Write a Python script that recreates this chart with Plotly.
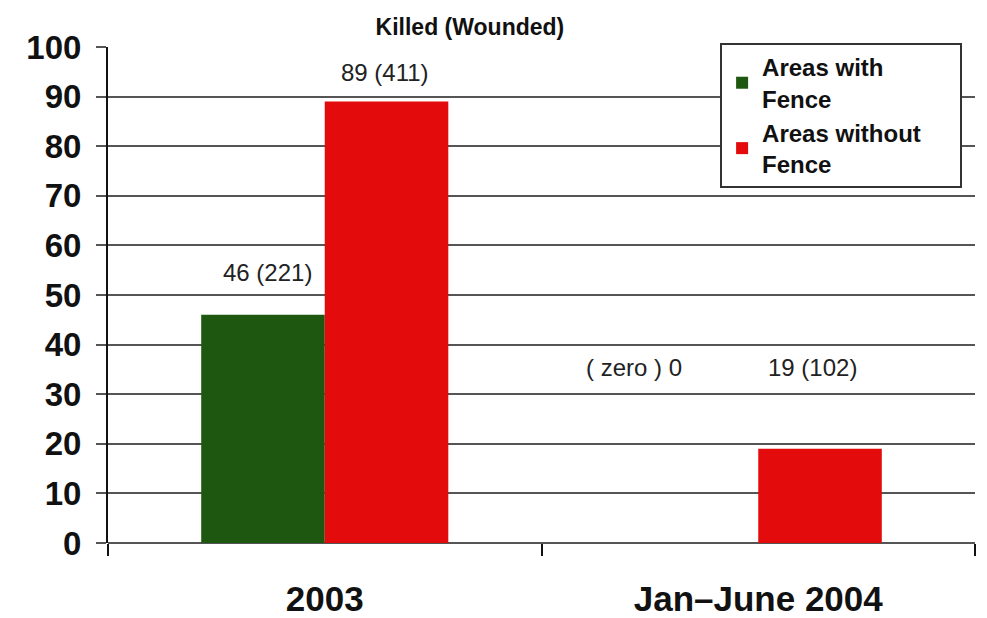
import plotly.graph_objects as go

categories = ["2003", "Jan\u2013June 2004"]
series_names = ["Areas with<br>Fence", "Areas without&nbsp;&nbsp;&nbsp;&nbsp;&nbsp;<br>Fence"]
with_fence = [46, 0]
without_fence = [89, 19]
with_fence_labels = ["46 (221)", "( zero ) 0"]
without_fence_labels = ["89 (411)", "19 (102)"]
# label vertical positions (data units)
with_label_y = [54.5, 35.3]
without_label_y = [94.8, 35.3]

colors = ["#1e5810", "#e30b0b"]
font_family = "Liberation Sans, Arial, sans-serif"

fig = go.Figure()
fig.add_trace(go.Bar(x=categories, y=with_fence, name=series_names[0],
                     marker=dict(color=colors[0], line=dict(width=0))))
fig.add_trace(go.Bar(x=categories, y=without_fence, name=series_names[1],
                     marker=dict(color=colors[1], line=dict(width=0))))

for i in range(len(categories)):
    fig.add_annotation(x=i, y=with_label_y[i], text=with_fence_labels[i],
                       xshift=-57 if i == 0 else -124, showarrow=False,
                       font=dict(size=24, color="#222", family=font_family))
    fig.add_annotation(x=i, y=without_label_y[i], text=without_fence_labels[i],
                       xshift=60 if i == 0 else 54, showarrow=False,
                       font=dict(size=24, color="#222", family=font_family))

fig.update_layout(
    width=987, height=618,
    margin=dict(l=100, r=20, t=39, b=83, autoexpand=False),
    paper_bgcolor="white", plot_bgcolor="white",
    barmode="group", bargap=0.43, bargroupgap=0,
    font=dict(family=font_family, color="#111"),
    title=dict(text="<b>Killed (Wounded)</b>", x=0.468, xanchor="center",
               y=0.969, yanchor="middle", font=dict(size=23, color="#111")),
    legend=dict(x=0.706, y=1.008, xanchor="left", yanchor="top",
                bgcolor="white", bordercolor="#333", borderwidth=2,
                font=dict(size=24, family=font_family, weight="bold", color="#111"),
                itemsizing="constant", tracegroupgap=0, traceorder="normal"),
    xaxis=dict(type="category", showline=False, ticks="outside", tickson="boundaries",
               ticklen=12, tickwidth=2, tickcolor="#111", automargin=False,
               ticklabelstandoff=32,
               tickfont=dict(size=35, weight="bold", color="#111"), tickangle=0,
               showgrid=False),
    yaxis=dict(range=[0, 100], dtick=10, showline=True, linecolor="#111", linewidth=2,
               gridcolor="#555", gridwidth=2, ticks="outside", ticklen=10,
               tickcolor="#555", tickwidth=2, zeroline=True, zerolinecolor="#555",
               zerolinewidth=2, automargin=False, ticklabelstandoff=8,
               tickfont=dict(size=33, weight="bold", color="#111")),
)

fig.write_html("out.html")
